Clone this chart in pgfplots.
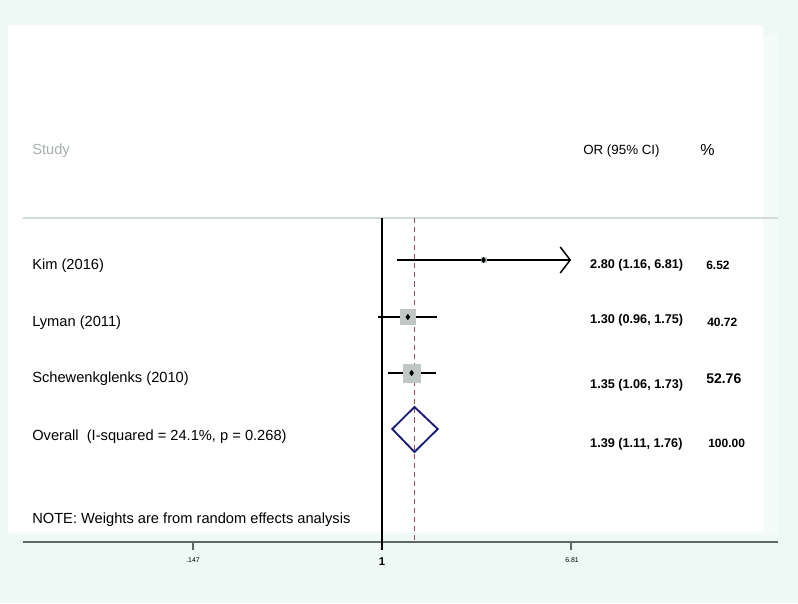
\documentclass[border=0pt]{standalone}
\usepackage{pgfplots}
\usepackage{fontspec}
\usetikzlibrary{arrows.meta}
\pgfplotsset{compat=1.18}
\setmainfont{Liberation Sans}

\definecolor{bgmint}{HTML}{EEF9F6}
\definecolor{panelfaint}{HTML}{F4FBF9}
\definecolor{headgrey}{HTML}{D3DBD9}
\definecolor{axisgrey}{HTML}{5E6967}
\definecolor{refred}{HTML}{9E4A62}
\definecolor{boxgrey}{HTML}{BFC8C6}
\definecolor{diamondblue}{HTML}{1A1A7A}
\definecolor{studygrey}{HTML}{A5B0AE}

\begin{document}
\begin{tikzpicture}
\begin{axis}[
    scale only axis,
    width=598.5pt, height=452.25pt,
    xmode=log,
    xmin=0.02077, xmax=67.97,
    ymin=0, ymax=603,
    hide axis,
    clip=false,
]
% background panels
\fill[bgmint] (rel axis cs:0,0) rectangle (rel axis cs:1,1);
\fill[panelfaint] (rel axis cs:0.0125,0.1128) rectangle (rel axis cs:0.9749,0.9420);
\fill[white] (rel axis cs:0.0100,0.1177) rectangle (rel axis cs:0.9561,0.9585);

% header rule and x axis line
\draw[headgrey, line width=1.5pt] (rel axis cs:0.0288,0.6385) -- (rel axis cs:0.975,0.6385);
\draw[axisgrey, line width=1.9pt] (rel axis cs:0.0288,0.1012) -- (rel axis cs:0.975,0.1012);

% ticks
\addplot[axisgrey, line width=1pt] coordinates {(0.147,61) (0.147,53)};
\addplot[axisgrey, line width=1pt] coordinates {(6.81,61) (6.81,53)};

% null line and overall estimate
\addplot[black, line width=0.9pt] coordinates {(1,385) (1,53)};
\addplot[refred, line width=1.3pt, dash pattern=on 3.8pt off 3pt] coordinates {(1.39,385) (1.39,61)};

% weight boxes
\addplot[only marks, mark=square*, mark size=1.9pt, mark options={draw=boxgrey, fill=boxgrey}] coordinates {(2.80,343)};
\addplot[only marks, mark=square*, mark size=5.6pt, mark options={draw=boxgrey, fill=boxgrey}] coordinates {(1.30,286)};
\addplot[only marks, mark=square*, mark size=6.6pt, mark options={draw=boxgrey, fill=boxgrey}] coordinates {(1.35,230)};

% confidence intervals
\addplot[black, line width=1.1pt, -{Straight Barb[length=7.5pt, width=19.5pt, line width=1.1pt]}] coordinates {(1.16,343) (6.81,343)};
\addplot[black, line width=1.1pt] coordinates {(0.96,286) (1.75,286)};
\addplot[black, line width=1.1pt] coordinates {(1.06,230) (1.73,230)};

% point estimates
\addplot[only marks, mark=diamond*, mark size=2pt, black] coordinates {(2.80,343) (1.30,286) (1.35,230)};

% pooled diamond
\addplot[diamondblue, line width=1.4pt, line join=miter] coordinates {(1.11,174) (1.39,196) (1.76,174) (1.39,151)} -- cycle;

% column headers
\node[anchor=west, inner sep=0pt, text=studygrey, font=\fontsize{11}{13}\selectfont] at (rel axis cs:0.0401,0.7496) {Study};
\node[anchor=west, inner sep=0pt, font=\fontsize{10}{12}\selectfont] at (rel axis cs:0.7306,0.7496) {OR (95\% CI)};
\node[anchor=west, inner sep=0pt, font=\fontsize{12}{14}\selectfont] at (rel axis cs:0.8772,0.7512) {\%};

% study labels
\node[anchor=west, inner sep=0pt, font=\fontsize{11}{13}\selectfont] at (rel axis cs:0.0401,0.5589) {Kim (2016)};
\node[anchor=west, inner sep=0pt, font=\fontsize{11}{13}\selectfont] at (rel axis cs:0.0401,0.4643) {Lyman (2011)};
\node[anchor=west, inner sep=0pt, font=\fontsize{11}{13}\selectfont] at (rel axis cs:0.0401,0.3715) {Schewenkglenks (2010)};
\node[anchor=west, inner sep=0pt, font=\fontsize{11}{13}\selectfont] at (rel axis cs:0.0401,0.2753) {Overall\ \ (I-squared = 24.1\%, p = 0.268)};
\node[anchor=west, inner sep=0pt, font=\fontsize{11}{13}\selectfont] at (rel axis cs:0.0401,0.1376) {NOTE: Weights are from random effects analysis};

% estimates and weights
\node[anchor=west, inner sep=0pt, font=\fontsize{9.5}{11}\selectfont\bfseries] at (rel axis cs:0.7393,0.5605) {2.80 (1.16, 6.81)};
\node[anchor=west, inner sep=0pt, font=\fontsize{9.5}{11}\selectfont\bfseries] at (rel axis cs:0.7393,0.4693) {1.30 (0.96, 1.75)};
\node[anchor=west, inner sep=0pt, font=\fontsize{9.5}{11}\selectfont\bfseries] at (rel axis cs:0.7393,0.3615) {1.35 (1.06, 1.73)};
\node[anchor=west, inner sep=0pt, font=\fontsize{9.5}{11}\selectfont\bfseries] at (rel axis cs:0.7393,0.2637) {1.39 (1.11, 1.76)};
\node[anchor=west, inner sep=0pt, font=\fontsize{9}{11}\selectfont\bfseries] at (rel axis cs:0.8847,0.5605) {6.52};
\node[anchor=west, inner sep=0pt, font=\fontsize{9}{11}\selectfont\bfseries] at (rel axis cs:0.8860,0.4660) {40.72};
\node[anchor=west, inner sep=0pt, font=\fontsize{10.5}{12}\selectfont\bfseries] at (rel axis cs:0.8847,0.3715) {52.76};
\node[anchor=west, inner sep=0pt, font=\fontsize{9}{11}\selectfont\bfseries] at (rel axis cs:0.8872,0.2653) {100.00};

% tick labels
\node[inner sep=0pt, font=\fontsize{5.2}{6}\selectfont] at (rel axis cs:0.2419,0.0713) {.147};
\node[inner sep=0pt, font=\fontsize{8.5}{9}\selectfont\bfseries] at (rel axis cs:0.4787,0.0680) {1};
\node[inner sep=0pt, font=\fontsize{5.2}{6}\selectfont] at (rel axis cs:0.7168,0.0713) {6.81};
\end{axis}
\end{tikzpicture}
\end{document}
